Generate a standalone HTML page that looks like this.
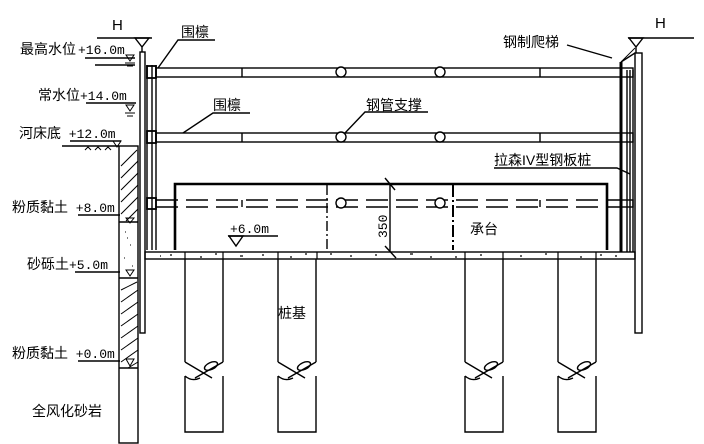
<!DOCTYPE html>
<html><head><meta charset="utf-8"><style>
html,body{margin:0;padding:0;background:#fff;}
svg{display:block;}
text{font-family:"Liberation Sans","Noto Sans CJK SC",sans-serif;fill:#000;}
.m{font-family:"Liberation Mono","Noto Sans CJK SC",monospace;}
</style></head><body>
<svg width="704" height="444" viewBox="0 0 704 444" xmlns="http://www.w3.org/2000/svg">
<g stroke="#000" stroke-width="1.4" fill="none">
<line x1="97" y1="38" x2="152" y2="38"/>
<path d="M135 38 L149 38 L142 47 Z M142 47 L142 52"/>
<line x1="628" y1="38" x2="694" y2="38"/>
<path d="M629 38 L643 38 L636 47 Z M636 47 L636 53"/>
<rect x="119" y="146" width="19" height="297"/>
<line x1="119" y1="222" x2="138" y2="222"/>
<line x1="119" y1="278" x2="138" y2="278"/>
<line x1="119" y1="368" x2="138" y2="368"/>
<g stroke-width="1">
<path d="M121 166 L137 150 M121 178 L138 161 M121 190 L138 173 M121 202 L138 185 M121 214 L138 197 M126 221 L138 209"/>
<path d="M121 290 L137 282 M121 302 L138 290 M121 314 L138 302 M121 326 L138 314 M121 338 L138 326 M121 350 L138 338 M121 362 L138 350 M128 368 L138 362"/>
<path d="M125 232h1M130 245h1M124 258h1M132 266h1M127 238h1"/>
</g>
<rect x="140" y="52" width="5" height="281"/>
<line x1="147" y1="65" x2="147" y2="250"/>
<line x1="152" y1="65" x2="152" y2="250"/>
<line x1="156" y1="65" x2="156" y2="250"/>
<rect x="635" y="53" width="7" height="280"/>
<line x1="621" y1="62" x2="621" y2="252" stroke-width="3"/>
<line x1="627" y1="70" x2="627" y2="252"/>
<line x1="630" y1="70" x2="630" y2="252"/>
<line x1="633" y1="70" x2="633" y2="252"/>
<path d="M621 62 L635 53"/><path d="M621 62 L635 48" stroke-width="0.9"/>
<rect x="156" y="68" width="465" height="9"/>
<rect x="156" y="133" width="465" height="9"/>
<line x1="242" y1="68" x2="242" y2="77"/><line x1="540" y1="68" x2="540" y2="77"/>
<line x1="242" y1="133" x2="242" y2="142"/><line x1="540" y1="133" x2="540" y2="142"/>
<rect x="147" y="66" width="9" height="12" stroke-width="1.8"/>
<rect x="147" y="131" width="9" height="12" stroke-width="1.8"/>
<rect x="147" y="198" width="9" height="11" stroke-width="1.8"/>
<rect x="621" y="68" width="12" height="9"/>
<rect x="621" y="133" width="12" height="9"/>
<rect x="621" y="200" width="12" height="7"/>
<g stroke-dasharray="22,8">
<line x1="156" y1="200" x2="621" y2="200"/>
<line x1="156" y1="207" x2="621" y2="207"/>
</g>
<line x1="242" y1="200" x2="242" y2="207"/><line x1="540" y1="200" x2="540" y2="207"/>
<g fill="#fff">
<circle cx="341" cy="72" r="5"/><circle cx="440" cy="72" r="5"/>
<circle cx="341" cy="137" r="5"/><circle cx="440" cy="137" r="5"/>
<circle cx="341" cy="203" r="5"/><circle cx="440" cy="203" r="5"/>
</g>
<path d="M175 250 L175 184 L607 184 L607 250" stroke-width="2.6"/>
<line x1="327" y1="185" x2="327" y2="250" stroke-dasharray="10,3,2,3"/>
<line x1="453" y1="185" x2="453" y2="250" stroke-dasharray="12,3,2,3" stroke-width="2"/>
<line x1="390" y1="184" x2="390" y2="252"/>
<line x1="385" y1="178" x2="395" y2="190"/><line x1="385" y1="246" x2="396" y2="258"/>
<rect x="145" y="252" width="490" height="7"/>
<g stroke-width="1.2">
<path d="M170 255h2M200 257h2M215 254h2M240 256h3M262 255h2M290 257h2M305 254h2M350 256h2M375 255h2M410 254h3M430 257h2M480 255h2M520 256h2M545 254h2M580 257h2M600 255h2M615 256h2M160 256h1M330 254h2M455 257h2"/>
<line x1="185" y1="252" x2="185" y2="259"/><line x1="223" y1="252" x2="223" y2="259"/>
<line x1="278" y1="252" x2="278" y2="259"/><line x1="317" y1="252" x2="317" y2="259"/>
<line x1="465" y1="252" x2="465" y2="259"/><line x1="503" y1="252" x2="503" y2="259"/>
<line x1="558" y1="252" x2="558" y2="259"/><line x1="596" y1="252" x2="596" y2="259"/>
</g>
<g id="p">
<path d="M185 259 L185 362 M223 259 L223 362 M185 362 L212 378 M223 362 L195 378 M185 376 L185 432 L223 432 L223 376 M185 376 Q192 382 200 378"/>
<ellipse cx="211" cy="366" rx="7" ry="3.5" transform="rotate(-25 211 366)"/>
</g>
<use href="#p" x="93"/><use href="#p" x="280"/><use href="#p" x="373"/>
<path d="M126 55 L134 55 L130 61 Z M125 63 h10 M127 66 h6" stroke-width="1"/>
<path d="M126 105 L134 105 L130 111 Z M125 113 h10 M127 116 h6" stroke-width="1"/>
<path d="M113 141 L121 141 L117 147 Z" stroke-width="1"/>
<path d="M126 218 L134 218 L130 223 Z" stroke-width="1"/>
<path d="M126 270 L134 270 L130 276 Z" stroke-width="1"/>
<path d="M126 359 L134 359 L130 366 Z" stroke-width="1"/>
<path d="M229 236 L243 236 L236 246 Z"/>
<line x1="85" y1="58" x2="135" y2="58"/>
<line x1="95" y1="65" x2="135" y2="65"/>
<line x1="86" y1="103" x2="136" y2="103"/>
<line x1="70" y1="141" x2="121" y2="141"/>
<line x1="62" y1="146" x2="119" y2="146"/>
<line x1="78" y1="215" x2="120" y2="215"/>
<line x1="75" y1="272" x2="120" y2="272"/>
<line x1="78" y1="361" x2="120" y2="361"/>
<line x1="228" y1="236" x2="278" y2="236"/>
<path d="M215 40 L178 40 L158 68"/>
<path d="M250 113 L213 113 L183 133"/>
<path d="M428 112 L365 112 L345 133"/>
<path d="M567 45 L612 58"/>
<path d="M494 168 L617 168 L630 174"/>
</g>
<g stroke="#000" stroke-width="1" fill="none"><path d="M85 150 l3 -3 l3 3 M95 150 l3 -3 l3 3 M105 150 l3 -3 l3 3"/></g>
<text x="112" y="30" font-size="15" font-family="Liberation Serif">H</text>
<text x="655" y="28" font-size="15" font-family="Liberation Serif">H</text>
<text x="181" y="37" font-size="14">围檩</text>
<text x="213" y="110" font-size="14">围檩</text>
<text x="366" y="110" font-size="14">钢管支撑</text>
<text x="503" y="47" font-size="14">钢制爬梯</text>
<text x="494" y="165" font-size="14">拉森IV型钢板桩</text>
<text x="470" y="234" font-size="14">承台</text>
<text x="278" y="318" font-size="14">桩基</text>
<text x="32" y="416" font-size="14">全风化砂岩</text>
<text x="20" y="54" font-size="14">最高水位<tspan class="m" font-size="13" dx="2">+16.0m</tspan></text>
<text x="38" y="100" font-size="14">常水位<tspan class="m" font-size="13">+14.0m</tspan></text>
<text x="19" y="138" font-size="14">河床底<tspan class="m" font-size="13"> +12.0m</tspan></text>
<text x="12" y="212" font-size="14">粉质黏土<tspan class="m" font-size="13"> +8.0m</tspan></text>
<text x="27" y="269" font-size="14">砂砾土<tspan class="m" font-size="13">+5.0m</tspan></text>
<text x="12" y="358" font-size="14">粉质黏土<tspan class="m" font-size="13"> +0.0m</tspan></text>
<text x="230" y="233" font-size="13" class="m">+6.0m</text>
<text x="0" y="0" font-size="13" class="m" transform="translate(387 238) rotate(-90)">350</text>
</svg>
</body></html>
